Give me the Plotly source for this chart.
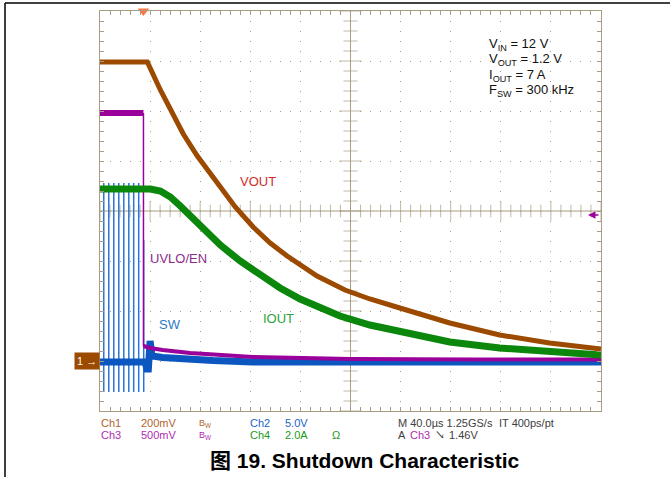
import numpy as np
import plotly.graph_objects as go

# scope: 40 us/div over 10 div, 8 vertical div, ground of every channel at -3 div
t_range = [0, 400]

# Ch1 VOUT (V), 200 mV/div
vout_t = [0, 37.8, 48.2, 58.6, 66.5, 77.7, 96.0, 108.0, 122.3, 135.9, 149.4, 173.3,
          195.6, 215.5, 239.4, 279.3, 319.1, 358.9, 400]
vout_v = [1.196, 1.196, 1.084, 0.98, 0.908, 0.82, 0.692, 0.616, 0.536, 0.472, 0.42, 0.34,
          0.284, 0.248, 0.212, 0.152, 0.104, 0.072, 0.048]

# Ch4 IOUT (A), 2 A/div
iout_t = [0, 40.2, 48.2, 56.2, 64.1, 80.1, 96.0, 111.9, 127.9, 143.8, 159.8, 175.7,
          191.6, 215.5, 239.4, 279.3, 319.1, 358.9, 400]
iout_a = [6.88, 6.88, 6.8, 6.56, 6.2, 5.4, 4.64, 4.0, 3.44, 2.92, 2.48, 2.12,
          1.8, 1.44, 1.16, 0.76, 0.52, 0.36, 0.24]

# Ch3 UVLO/EN (V), 500 mV/div
en_t = [0, 34.7, 34.7, 40, 50, 72, 122, 200, 300, 400]
en_v = [2.48, 2.48, 0.15, 0.13, 0.11, 0.08, 0.04, 0.02, 0.015, 0.015]

# Ch2 SW (V), 5 V/div
sw_pulse_t = [3.0, 7.0, 11.0, 15.0, 19.0, 23.0, 26.9, 30.9, 34.9]
sw_pulse_hi = [17.8, 17.8, 17.8, 17.8, 17.8, 17.8, 17.8, 17.8, 12.1]
sw_pulse_lo = [-3.1, -3.1, -3.1, -3.1, -3.1, -3.1, -3.1, -3.1, -3.1]
sw_t = [0, 34.9, 36.0, 37.4, 38.6, 40.0, 41.5, 50, 64, 90, 122, 400]
sw_v = [-0.1, -0.1, -0.1, -0.8, -0.8, 2.0, 0.5, 0.35, 0.2, 0.05, -0.1, -0.1]

trigger_t = 34.7
trigger_level = 1.46

conditions = ["V<sub>IN</sub> = 12 V", "V<sub>OUT</sub> = 1.2 V",
              "I<sub>OUT</sub> = 7 A", "F<sub>SW</sub> = 300 kHz"]

GRID = "#a89c82"
BROWN = "#9c4a00"
GREEN = "#0b870b"
PURPLE = "#9a009a"
BLUE = "#0b57bf"
FONT = "Arial, Liberation Sans, Noto Sans CJK SC, sans-serif"

# plot area in pixels: x 100..601, y 11..411
def px(x):
    return (x - 100) / 501


def py(y):
    return (411 - y) / 400


fig = go.Figure()

# graticule centre cross ticks
hx = np.arange(0, 401, 8)
fig.add_trace(go.Scatter(
    x=hx, y=[0.6] * len(hx), mode="markers", hoverinfo="skip", showlegend=False,
    marker=dict(symbol="line-ns", size=[14 if i % 5 == 0 else 9 for i in range(len(hx))],
                line=dict(color=GRID, width=1)),
))
vy = np.linspace(-0.2, 1.4, 41)
fig.add_trace(go.Scatter(
    x=[200] * len(vy), y=vy, mode="markers", hoverinfo="skip", showlegend=False,
    marker=dict(symbol="line-ew", size=[16 if i % 5 == 0 else 10 for i in range(len(vy))],
                line=dict(color=GRID, width=1)),
))

# Ch3 UVLO/EN
fig.add_trace(go.Scatter(x=en_t[:2], y=en_v[:2], yaxis="y3", mode="lines",
                         line=dict(color=PURPLE, width=6), hoverinfo="skip"))
fig.add_trace(go.Scatter(x=en_t[1:3], y=en_v[1:3], yaxis="y3", mode="lines",
                         line=dict(color=PURPLE, width=1.5), hoverinfo="skip"))
fig.add_trace(go.Scatter(x=en_t[2:], y=en_v[2:], yaxis="y3", mode="lines",
                         line=dict(color=PURPLE, width=4), hoverinfo="skip"))

# Ch2 SW: switching pulses then the quiet node
pulse_x, pulse_y = [], []
for t, hi, lo in zip(sw_pulse_t, sw_pulse_hi, sw_pulse_lo):
    pulse_x += [t, t, None]
    pulse_y += [hi, lo, None]
fig.add_trace(go.Scatter(x=pulse_x, y=pulse_y, yaxis="y2", mode="lines",
                         line=dict(color="#2a74d4", width=1.5), hoverinfo="skip"))
fig.add_trace(go.Scatter(x=sw_t, y=sw_v, yaxis="y2", mode="lines",
                         line=dict(color=BLUE, width=7), hoverinfo="skip"))

# Ch4 IOUT
fig.add_trace(go.Scatter(x=iout_t, y=iout_a, yaxis="y4", mode="lines",
                         line=dict(color=GREEN, width=7), hoverinfo="skip"))

# Ch1 VOUT
fig.add_trace(go.Scatter(x=vout_t, y=vout_v, mode="lines",
                         line=dict(color=BROWN, width=5), hoverinfo="skip"))

# trigger position marker
fig.add_trace(go.Scatter(x=[trigger_t], y=[1.4], mode="markers", cliponaxis=False,
                         hoverinfo="skip",
                         marker=dict(symbol="triangle-down", size=10, color="#ff7440")))

axis_common = dict(showticklabels=False, zeroline=False, showline=True, linecolor=GRID,
                   linewidth=1, mirror="allticks", ticks="inside", ticklen=4,
                   tickcolor=GRID, gridcolor=GRID, griddash="1px,9px", gridwidth=1)

fig.update_layout(
    width=670, height=477,
    margin=dict(l=100, r=69, t=11, b=66),
    paper_bgcolor="white", plot_bgcolor="white",
    showlegend=False,
    font=dict(family=FONT),
    xaxis=dict(range=t_range, dtick=40, tick0=0, showgrid=True,
               minor=dict(ticks="inside", dtick=8, ticklen=4, tickcolor=GRID, showgrid=False),
               **axis_common),
    yaxis=dict(range=[-0.2, 1.4], dtick=0.2, tick0=-0.2, showgrid=True,
               minor=dict(ticks="inside", dtick=0.04, ticklen=4, tickcolor=GRID, showgrid=False),
               **axis_common),
    yaxis2=dict(range=[-5, 35], overlaying="y", visible=False),
    yaxis3=dict(range=[-0.5, 3.5], overlaying="y", visible=False),
    yaxis4=dict(range=[-2, 14], overlaying="y", visible=False),
)

# centre lines of the graticule
fig.add_shape(type="line", xref="x", yref="paper", x0=200, x1=200, y0=0, y1=1,
              line=dict(color=GRID, width=1), layer="below")
fig.add_shape(type="line", xref="paper", yref="y", x0=0, x1=1, y0=0.6, y1=0.6,
              line=dict(color=GRID, width=1), layer="below")

# page frame
fig.add_shape(type="line", xref="paper", yref="paper", x0=px(5), x1=px(5), y0=py(3), y1=py(480),
              line=dict(color="black", width=1.5))
fig.add_shape(type="line", xref="paper", yref="paper", x0=px(5), x1=px(672), y0=py(3), y1=py(3),
              line=dict(color="black", width=1.5))


def label(text, x, y, color, size=13, anchor="left", bold=False):
    fig.add_annotation(text=f"<b>{text}</b>" if bold else text, x=px(x), y=py(y),
                       xref="paper", yref="paper", xanchor=anchor, yanchor="middle",
                       showarrow=False, font=dict(size=size, color=color, family=FONT))


# test conditions
for i, line in enumerate(conditions):
    label(line, 487, 44 + 15.5 * i, "#111111", size=13)

# trace labels
label("VOUT", 258, 181, "#d22b2b", anchor="center")
label("UVLO/EN", 178, 258, "#8b2d8b", anchor="center")
label("SW", 170, 324, "#2b7ac8", anchor="center")
label("IOUT", 278, 318, "#2aa43c", anchor="center")

# ground marker of Ch1 and trigger level arrow of Ch3
fig.add_annotation(text="1 →", x=0, y=0, xref="paper", yref="y", xanchor="right",
                   yanchor="middle", showarrow=False, bgcolor=BROWN, borderpad=2,
                   font=dict(size=11, color="white", family=FONT))
fig.add_annotation(text="", x=px(588), y=trigger_level, xref="paper", yref="y3",
                   ax=12, ay=0, showarrow=True, arrowhead=2, arrowsize=1,
                   arrowwidth=1.5, arrowcolor=PURPLE)

# readouts
label("Ch1", 99, 423, "#b0642e", size=11)
label("200mV", 139, 423, "#b0642e", size=11)
label("B<sub>W</sub>", 197, 423, "#b0642e", size=9)
label("Ch2", 248, 423, "#2062c4", size=11)
label("5.0V", 283, 423, "#2062c4", size=11)
label("M 40.0µs 1.25GS/s", 396, 423, "#404040", size=11)
label("IT 400ps/pt", 497, 423, "#404040", size=11)
label("Ch3", 99, 435, "#b02cb0", size=11)
label("500mV", 139, 435, "#b02cb0", size=11)
label("B<sub>W</sub>", 197, 435, "#b02cb0", size=9)
label("Ch4", 248, 435, "#229a22", size=11)
label("2.0A", 283, 435, "#229a22", size=11)
label("Ω", 330, 435, "#229a22", size=11)
label("A", 396, 435, "#404040", size=11)
label("Ch3", 408, 435, "#b02cb0", size=11)
label("↘", 433, 435, "#404040", size=10)
label("1.46V", 447, 435, "#404040", size=11)

# caption
label("图 19. Shutdown Characteristic", 365, 460, "black", size=21, anchor="center", bold=True)

# drop the browser's default 8px body margin so the figure sits at the page origin
fig.write_html("out.html", config={"displayModeBar": False},
               post_script="document.body.style.margin = '0px';")
